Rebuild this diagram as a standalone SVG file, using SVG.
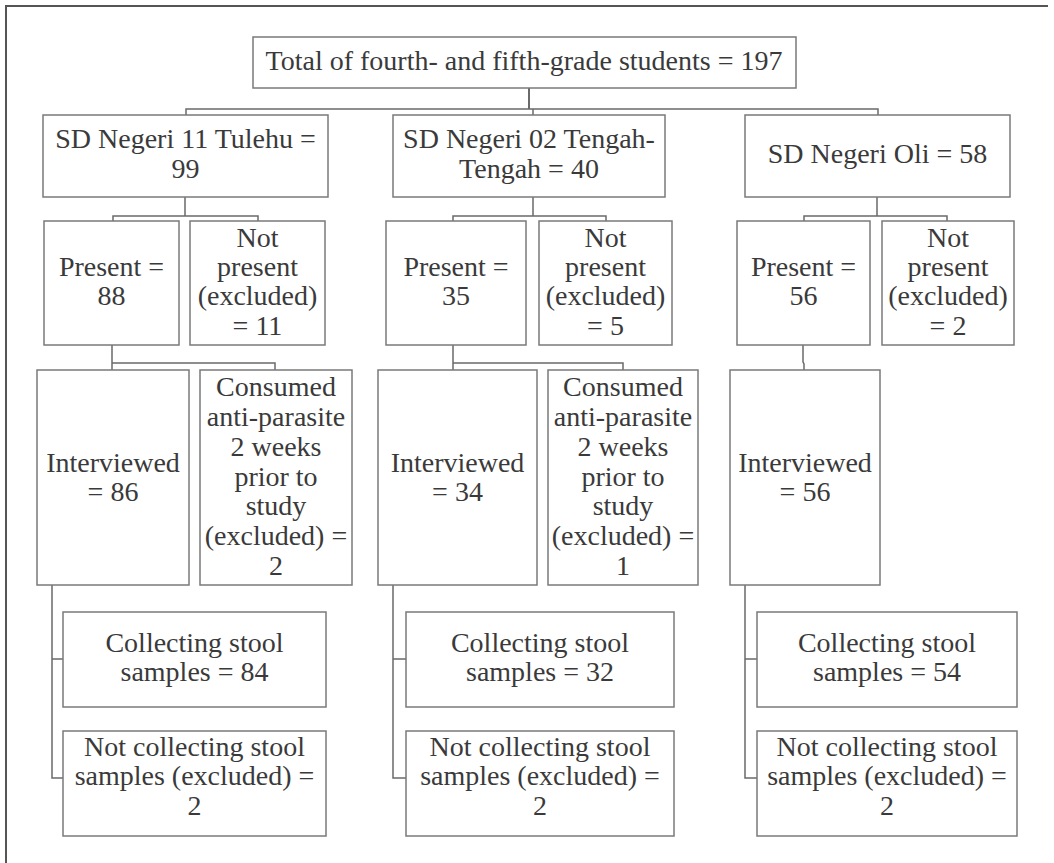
<svg xmlns="http://www.w3.org/2000/svg" width="1054" height="863" viewBox="0 0 1054 863" font-family="'Liberation Serif', 'Times New Roman', serif">
<style>
.box{fill:#fff;stroke:#7a7a7a;stroke-width:1.5}
text{font-family:"Liberation Serif","Times New Roman",Times,serif;font-size:28px;fill:#3a3a3a;text-anchor:middle}
.c{fill:none;stroke:#6a6a6a;stroke-width:1.5}
.frame{fill:none;stroke:#555;stroke-width:2}
</style>
<rect width="1054" height="863" fill="#fff"/>
<path class="frame" d="M6,863 V6 H1048"/>
<g id="connectors">
<path class="c" d="M529,88 V109" style="stroke-width:2"/>
<path class="c" d="M186,115 V109 H878 V115 M533,109 V115"/>
<path class="c" d="M185,197 V216 M113,221 V216 H258 V221"/>
<path class="c" d="M533,197 V216 M453,221 V216 H606 V221"/>
<path class="c" d="M877,197 V216 M804,221 V216 H947 V221"/>
<path class="c" d="M112,345 V370 M112,363 H275 V370"/>
<path class="c" d="M453,345 V370 M453,363 H623 V370"/>
<path class="c" d="M803,345 V362 L804,364 V370"/>
<path class="c" d="M52,585 V778 H63 M52,659 H63"/>
<path class="c" d="M393,585 V778 H406 M393,659 H406"/>
<path class="c" d="M745,585 V778 H757 M745,659 H757"/>
</g>
<g id="total"><rect class="box" x="253" y="37" width="543" height="51"/><text font-family="Liberation Serif" x="524" y="70">Total of fourth- and fifth-grade students = 197</text></g>
<g id="tulehu"><rect class="box" x="43" y="115" width="285" height="82"/><text x="185.5" y="148">SD Negeri 11 Tulehu =</text><text x="185.5" y="178">99</text></g>
<g id="tengah"><rect class="box" x="393" y="115" width="272" height="82"/><text x="529" y="148">SD Negeri 02 Tengah-</text><text x="529" y="178">Tengah = 40</text></g>
<g id="oli"><rect class="box" x="745" y="115" width="265" height="82"/><text x="877.5" y="163">SD Negeri Oli = 58</text></g>
<g id="present1"><rect class="box" x="44" y="221" width="135" height="124"/><text x="111.5" y="276">Present =</text><text x="111.5" y="305">88</text></g>
<g id="notpresent1"><rect class="box" x="190" y="221" width="135" height="124"/><text x="257.5" y="247">Not</text><text x="257.5" y="276">present</text><text x="257.5" y="305">(excluded)</text><text x="257.5" y="335">= 11</text></g>
<g id="present2"><rect class="box" x="386" y="221" width="140" height="124"/><text x="456" y="276">Present =</text><text x="456" y="305">35</text></g>
<g id="notpresent2"><rect class="box" x="539" y="221" width="133" height="124"/><text x="605.5" y="247">Not</text><text x="605.5" y="276">present</text><text x="605.5" y="305">(excluded)</text><text x="605.5" y="335">= 5</text></g>
<g id="present3"><rect class="box" x="737" y="221" width="133" height="124"/><text x="803.5" y="276">Present =</text><text x="803.5" y="305">56</text></g>
<g id="notpresent3"><rect class="box" x="882" y="221" width="132" height="124"/><text x="948" y="247">Not</text><text x="948" y="276">present</text><text x="948" y="305">(excluded)</text><text x="948" y="335">= 2</text></g>
<g id="interviewed1"><rect class="box" x="37" y="370" width="152" height="215"/><text x="113" y="472">Interviewed</text><text x="113" y="501">= 86</text></g>
<g id="consumed1"><rect class="box" x="200" y="370" width="152" height="215"/><text x="276" y="396">Consumed</text><text x="276" y="426">anti-parasite</text><text x="276" y="456">2 weeks</text><text x="276" y="486">prior to</text><text x="276" y="515">study</text><text x="276" y="545">(excluded) =</text><text x="276" y="575">2</text></g>
<g id="interviewed2"><rect class="box" x="378" y="370" width="159" height="215"/><text x="457.5" y="472">Interviewed</text><text x="457.5" y="501">= 34</text></g>
<g id="consumed2"><rect class="box" x="548" y="370" width="150" height="215"/><text x="623" y="396">Consumed</text><text x="623" y="426">anti-parasite</text><text x="623" y="456">2 weeks</text><text x="623" y="486">prior to</text><text x="623" y="515">study</text><text x="623" y="545">(excluded) =</text><text x="623" y="575">1</text></g>
<g id="interviewed3"><rect class="box" x="730" y="370" width="150" height="215"/><text x="805" y="472">Interviewed</text><text x="805" y="501">= 56</text></g>
<g id="collect1"><rect class="box" x="63" y="612" width="263" height="95"/><text x="194.5" y="652">Collecting stool</text><text x="194.5" y="681">samples = 84</text></g>
<g id="notcollect1"><rect class="box" x="63" y="731" width="263" height="105"/><text x="194.5" y="756">Not collecting stool</text><text x="194.5" y="785">samples (excluded) =</text><text x="194.5" y="815">2</text></g>
<g id="collect2"><rect class="box" x="406" y="612" width="268" height="95"/><text x="540" y="652">Collecting stool</text><text x="540" y="681">samples = 32</text></g>
<g id="notcollect2"><rect class="box" x="406" y="731" width="268" height="105"/><text x="540" y="756">Not collecting stool</text><text x="540" y="785">samples (excluded) =</text><text x="540" y="815">2</text></g>
<g id="collect3"><rect class="box" x="757" y="612" width="260" height="95"/><text x="887" y="652">Collecting stool</text><text x="887" y="681">samples = 54</text></g>
<g id="notcollect3"><rect class="box" x="757" y="731" width="260" height="105"/><text x="887" y="756">Not collecting stool</text><text x="887" y="785">samples (excluded) =</text><text x="887" y="815">2</text></g>
</svg>
